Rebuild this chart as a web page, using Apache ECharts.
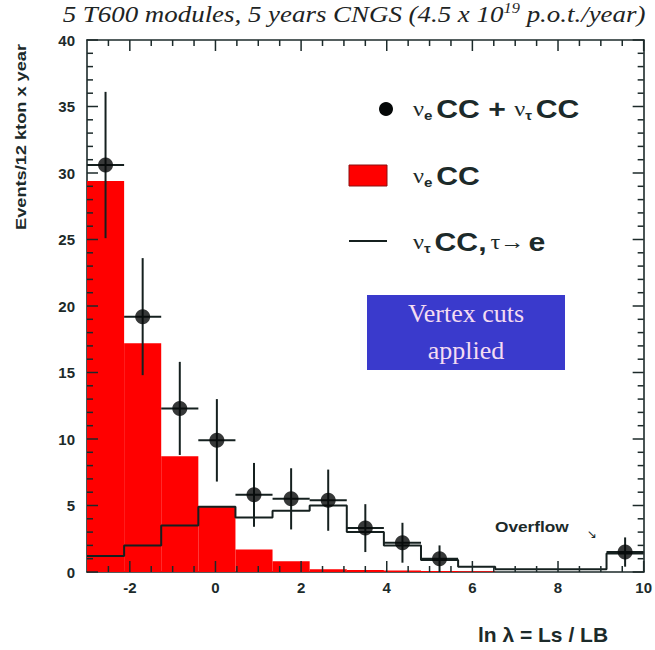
<!DOCTYPE html>
<html><head><meta charset="utf-8">
<script src="https://cdn.jsdelivr.net/npm/echarts@6/dist/echarts.min.js"></script>
<style>html,body{margin:0;padding:0;background:#fff}#c{width:655px;height:650px}</style>
</head><body><div id="c"></div>
<script>
// ---- data ----
const binEdges   = [-3, -2.133, -1.267, -0.4, 0.467, 1.333, 2.2, 3.067, 3.933, 4.8, 5.667, 6.533, 7.4, 8.267, 9.133, 10];
const binCenters = [-2.567, -1.7, -0.833, 0.033, 0.9, 1.767, 2.633, 3.5, 4.367, 5.233, 6.1, 6.967, 7.833, 8.7, 9.567];
const nueCC      = [29.4, 17.2, 8.7, 4.9, 1.7, 0.8, 0.2, 0.15, 0.12, 0.08, 0.05, 0, 0, 0, 0];
const nutauCC    = [1.2, 2.0, 3.5, 4.9, 4.1, 4.6, 5.0, 3.0, 2.0, 0.9, 0.4, 0.2, 0.2, 0.2, 1.4];
const sumY       = [30.6, 19.2, 12.3, 9.9, 5.8, 5.5, 5.4, 3.3, 2.2, 1.0, null, null, null, null, 1.5];
const sumErr     = [5.5, 4.4, 3.5, 3.1, 2.4, 2.3, 2.3, 1.8, 1.5, 1.0, null, null, null, null, 1.1];
const xTicks     = [-2, 0, 2, 4, 6, 8, 10];
const xMinorTicks = [-2.5, -1.5, -1, -0.5, 0.5, 1, 1.5, 2.5, 3, 3.5, 4.5, 5, 5.5, 6.5, 7, 7.5, 8.5, 9, 9.5];
const yTicks     = [0, 5, 10, 15, 20, 25, 30, 35, 40];
const yMinorTicks = [1, 2, 3, 4, 6, 7, 8, 9, 11, 12, 13, 14, 16, 17, 18, 19, 21, 22, 23, 24, 26, 27, 28, 29, 31, 32, 33, 34, 36, 37, 38, 39];
const xRange = [-3, 10];
const yRange = [0, 40];

const INK = '#1c2a2a';
const sans = 'Liberation Sans, Arial, sans-serif';
const serif = 'Liberation Serif, Times New Roman, serif';

// build series data
const redData = nueCC.map((v, i) => [binEdges[i], binEdges[i + 1], v]);
const outlineData = nutauCC.map((v, i) => [binEdges[i], v]);
outlineData.push([binEdges[binEdges.length - 1], nutauCC[nutauCC.length - 1]]);
const pts = [], errs = [];
sumY.forEach((v, i) => {
  if (v === null) return;
  pts.push([binCenters[i], v]);
  errs.push([binCenters[i], v, sumErr[i], (binEdges[i + 1] - binEdges[i]) / 2]);
});
// frame tick marks: [side (0 bottom,1 top,2 left,3 right), value, isMajor]
const tickData = [];
[0, 1].forEach(s => {
  xTicks.forEach(v => tickData.push([s, v, 1]));
  xMinorTicks.forEach(v => tickData.push([s, v, 0]));
});
[2, 3].forEach(s => {
  yTicks.forEach(v => tickData.push([s, v, 1]));
  yMinorTicks.forEach(v => tickData.push([s, v, 0]));
});

function axis(extra) {
  return Object.assign({
    type: 'value', min: xRange[0], max: xRange[1],
    axisLine: { show: true, onZero: false, lineStyle: { color: INK, width: 1.6 } },
    axisTick: { show: false },
    axisLabel: { show: false },
    splitLine: { show: false }
  }, extra);
}
const xLabelStyle = { show: true, customValues: xTicks, margin: 8, color: INK, fontFamily: sans, fontWeight: 'bold', fontSize: 15 };
const yLabelStyle = { show: true, customValues: yTicks, margin: 12, color: INK, fontFamily: sans, fontWeight: 'bold', fontSize: 15 };

const richLegend = {
  nu: { font: '21px ' + serif, fill: INK },
  sub: { font: 'bold 13px ' + sans, fill: INK, padding: [12, 0, 0, 0] },
  b: { font: 'bold 26px ' + sans, fill: INK }
};

const option = {
  animation: false,
  grid: { left: 87, right: 10, top: 40, bottom: 78 },
  xAxis: [
    axis({ position: 'bottom', axisLabel: xLabelStyle }),
    axis({ position: 'top' })
  ],
  yAxis: [
    axis({ min: yRange[0], max: yRange[1], position: 'left', axisLabel: yLabelStyle }),
    axis({ min: yRange[0], max: yRange[1], position: 'right' })
  ],
  series: [
    {
      name: 'νe CC', type: 'custom', xAxisIndex: 0, yAxisIndex: 0,
      encode: { x: [0, 1], y: 2 },
      data: redData, z: 2,
      renderItem: function (params, api) {
        const p0 = api.coord([api.value(0), api.value(2)]);
        const p1 = api.coord([api.value(1), 0]);
        return { type: 'rect', shape: { x: p0[0], y: p0[1], width: p1[0] - p0[0], height: p1[1] - p0[1] }, style: { fill: '#ff0000' } };
      }
    },
    {
      name: 'ντ CC, τ→e', type: 'line', xAxisIndex: 0, yAxisIndex: 0, step: 'end',
      data: outlineData, symbol: 'none', z: 3,
      lineStyle: { color: '#15201f', width: 2 }
    },
    {
      name: 'err', type: 'custom', xAxisIndex: 0, yAxisIndex: 0, z: 4,
      encode: { x: 0, y: 1 },
      data: errs,
      renderItem: function (params, api) {
        const x = api.value(0), y = api.value(1), e = api.value(2), hw = api.value(3);
        const c = api.coord([x, y]);
        const t = api.coord([x, y + e]);
        const b = api.coord([x, Math.max(0, y - e)]);
        const l = api.coord([x - hw, y]);
        const r = api.coord([x + hw, y]);
        const st = { stroke: '#15201f', lineWidth: 2 };
        return { type: 'group', children: [
          { type: 'line', shape: { x1: c[0], y1: t[1], x2: c[0], y2: b[1] }, style: st },
          { type: 'line', shape: { x1: l[0], y1: c[1], x2: r[0], y2: c[1] }, style: st }
        ] };
      }
    },
    {
      name: 'νe CC + ντ CC', type: 'scatter', xAxisIndex: 0, yAxisIndex: 0, z: 5,
      data: pts, symbol: 'circle', symbolSize: 15,
      itemStyle: { color: '#050808' }
    },
    {
      name: 'frame ticks', type: 'custom', xAxisIndex: 0, yAxisIndex: 0, z: 6, silent: true,
      encode: { x: -1, y: -1 },
      data: tickData,
      renderItem: function (params, api) {
        const side = api.value(0), v = api.value(1), len = api.value(2) ? 11 : 6;
        let x1, y1, x2, y2;
        if (side === 0) { const p = api.coord([v, yRange[0]]); x1 = x2 = p[0]; y1 = p[1]; y2 = p[1] - len; }
        else if (side === 1) { const p = api.coord([v, yRange[1]]); x1 = x2 = p[0]; y1 = p[1]; y2 = p[1] + len; }
        else if (side === 2) { const p = api.coord([xRange[0], v]); y1 = y2 = p[1]; x1 = p[0]; x2 = p[0] + len; }
        else { const p = api.coord([xRange[1], v]); y1 = y2 = p[1]; x1 = p[0]; x2 = p[0] - len; }
        return { type: 'line', shape: { x1: x1, y1: y1, x2: x2, y2: y2 }, style: { stroke: INK, lineWidth: 1.5 } };
      }
    }
  ],
  graphic: [
    { type: 'text', x: 354, y: 14, scaleX: 1.17, style: {
      text: '5 T600 modules, 5 years CNGS (4.5 x 10{sup|19} p.o.t./year)',
      font: 'italic 23px ' + serif, fill: '#1e2424', align: 'center', verticalAlign: 'middle',
      rich: { sup: { font: 'italic 14px ' + serif, fill: '#1e2424', padding: [0, 0, 12, 0] } }
    } },
    // legend
    { type: 'circle', shape: { cx: 386, cy: 109, r: 7 }, style: { fill: '#050808' } },
    { type: 'text', x: 413, y: 109, scaleX: 1.16, style: {
      text: '{nu|ν}{sub|e} {b|CC + }{nu|ν}{sub|τ} {b|CC}', verticalAlign: 'middle', rich: richLegend
    } },
    { type: 'rect', shape: { x: 349, y: 165, width: 38, height: 21 }, style: { fill: '#ff0000', stroke: '#8a1010', lineWidth: 1 } },
    { type: 'text', x: 413, y: 176, scaleX: 1.16, style: {
      text: '{nu|ν}{sub|e} {b|CC}', verticalAlign: 'middle', rich: richLegend
    } },
    { type: 'line', shape: { x1: 349, y1: 241, x2: 387, y2: 241 }, style: { stroke: '#15201f', lineWidth: 2 } },
    { type: 'text', x: 413, y: 242, scaleX: 1.16, style: {
      text: '{nu|ν}{sub|τ} {b|CC,} {nu|τ→} {b|e}', verticalAlign: 'middle', rich: richLegend
    } },
    { type: 'rect', shape: { x: 367, y: 295, width: 198, height: 75 }, style: { fill: '#3a3acc' } },
    { type: 'text', x: 466, y: 313, style: { text: 'Vertex cuts', font: '26px ' + serif, fill: '#f4dcf2', align: 'center', verticalAlign: 'middle' } },
    { type: 'text', x: 466, y: 350, style: { text: 'applied', font: '26px ' + serif, fill: '#f4dcf2', align: 'center', verticalAlign: 'middle' } },
    // overflow note
    { type: 'text', x: 495, y: 526, scaleX: 1.15, style: { text: 'Overflow', font: 'bold 15px ' + sans, fill: INK, verticalAlign: 'middle' } },
    { type: 'text', x: 587, y: 534, style: { text: '↘', font: '12px DejaVu Sans', fill: INK, verticalAlign: 'middle' } },
    // axis titles
    { type: 'text', x: 543, y: 634, style: { text: 'ln λ = Ls / LB', font: 'bold 21px ' + sans, fill: INK, align: 'center', verticalAlign: 'middle' } },
    { type: 'text', x: 21, y: 137, rotation: Math.PI / 2, scaleX: 1.3, style: { text: 'Events/12 kton x year', font: 'bold 14px ' + sans, fill: INK, align: 'center', verticalAlign: 'middle' } }
  ]
};
const chart = echarts.init(document.getElementById('c'), null, { renderer: 'svg' });
chart.setOption(option);
</script>
</body></html>
